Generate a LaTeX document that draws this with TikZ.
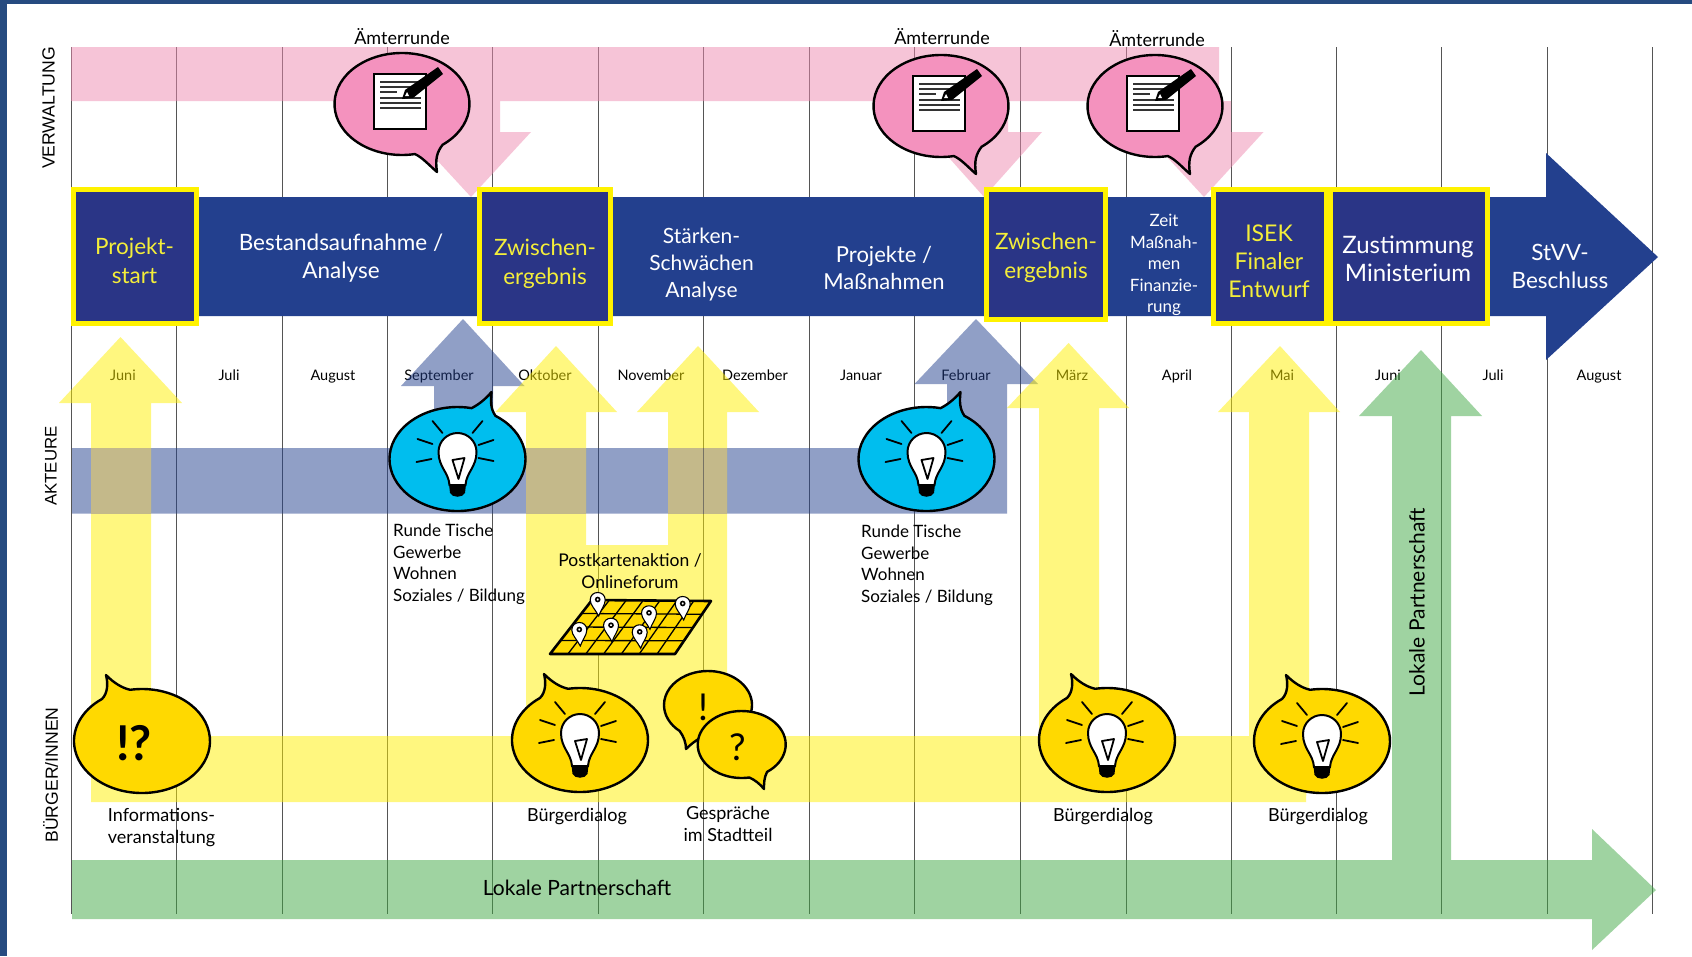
\documentclass[tikz,border=0pt]{standalone}
\usepackage{fontspec}
\setmainfont{Lato}
\newfontfamily\armfont{Liberation Sans}
\definecolor{frameblue}{HTML}{264B80}
\definecolor{barblue}{HTML}{23408E}
\definecolor{boxblue}{HTML}{2A3586}
\definecolor{boxyellow}{HTML}{FFF200}
\definecolor{tyellow}{HTML}{F4EE3A}
\definecolor{bubyellow}{HTML}{FFD900}
\definecolor{bubcyan}{HTML}{00BEEE}
\definecolor{bubpink}{HTML}{F492BE}
\definecolor{transyellow}{HTML}{FFF000}
\definecolor{transpink}{HTML}{EF8BB1}
\definecolor{transgreen}{HTML}{41A945}
\definecolor{gridgray}{HTML}{555555}
\definecolor{tan}{HTML}{C4B98A}
\newcommand{\fsz}[2]{\fontsize{#1}{#2}\selectfont}
\tikzset{
  gridline/.style={draw=gridgray,line width=0.9pt},
  ypanel/.style={fill=transyellow,fill opacity=.5},
  bpanel/.style={fill=barblue,fill opacity=.5},
  ppanel/.style={fill=transpink,fill opacity=.5},
  gpanel/.style={fill=transgreen,fill opacity=.5},
  milestone/.style={draw=boxyellow,line width=5pt,fill=boxblue,inner sep=0pt},
  bartext/.style={white,font=\fsz{22.5}{28},align=center,inner sep=0pt},
  milestext/.style={tyellow,font=\fsz{22.5}{29},align=center,inner sep=0pt},
  monthtext/.style={black,font=\fsz{14.5}{17},inner sep=0pt,anchor=base},
  lab/.style={black,font=\fsz{18}{22},align=center,inner sep=0pt},
  lableft/.style={black,font=\fsz{17}{21.6},align=left,inner sep=0pt},
  side/.style={black,font=\armfont\fsz{17.6}{22},rotate=90,inner sep=0pt},
  outl/.style={draw=black,line width=2.4pt,line join=round},
  ic/.style={draw=black,line width=1.8pt,line cap=round},
}
\newcommand{\pinkbubble}[2]{%
  \begin{scope}[shift={(#1,#2)}]
    \path[outl,fill=bubpink] (53:67.5 and 51)
      arc[start angle=53,end angle=-281,x radius=67.5,y radius=51]
      .. controls (20,53) and (28,62) .. (35,68)
      .. controls (33,55) and (35,48) .. (53:67.5 and 51) -- cycle;
    \draw[black,line width=2.2pt,fill=white] (-28,-30) rectangle (24,25);
    \foreach \yy in {-22,-17} \draw[black!80,line width=1.1pt] (-22,\yy) -- (19,\yy);
    \draw[black!80,line width=1.1pt] (-22,-12) -- (-5,-12);
    \foreach \yy in {-6,-1,4} \draw[black!80,line width=1.1pt] (-22,\yy) -- (19,\yy);
    \fill[black] (0,-5) -- (3,-14) -- (36,-37) -- (41,-30) -- (11,-6) -- cycle;
    \fill[white] (3,-8) -- (5,-12) -- (7,-8) -- cycle;
  \end{scope}}
\newcommand{\lightbulb}{%
  \foreach \ax/\ay/\bx/\by in {-25/-38/-15/-26,25/-38/15/-26,-40/-20/-25/-15,36/-19/21/-14,-41/3/-26/0,36/2/21/-1}
    \draw[ic] (\ax,\ay) -- (\bx,\by);
  \path[draw=black,line width=2pt,fill=white] (-8,26)
    .. controls (-9,13) and (-19,8) .. (-19,-7)
    .. controls (-19,-18) and (-10,-26) .. (0,-26)
    .. controls (10,-26) and (19,-18) .. (19,-7)
    .. controls (19,8) and (9,13) .. (8,26) -- cycle;
  \fill[black] (-8.5,25) -- (8.5,25) -- (7.5,34) .. controls (5,39) and (-5,39) .. (-7.5,34) -- cycle;
  \draw[black,line width=1.8pt,line join=round] (-5,1) -- (7,-1) -- (1,20) -- cycle;
}
\newcommand{\cyanbubble}[2]{%
  \begin{scope}[shift={(#1,#2)}]
    \path[outl,fill=bubcyan] (-56:68 and 52)
      arc[start angle=-56,end angle=282,x radius=68,y radius=52]
      .. controls (22,-55) and (28,-60) .. (34,-67)
      .. controls (33,-58) and (33,-50) .. (-56:68 and 52) -- cycle;
    \lightbulb
  \end{scope}}
\newcommand{\yellowblob}{%
    \path[outl,fill=bubyellow] (260:68 and 52)
      arc[start angle=260,end angle=594,x radius=68,y radius=52]
      .. controls (-34,-48) and (-34,-58) .. (-36,-66)
      .. controls (-28,-58) and (-20,-53) .. (260:68 and 52) -- cycle;
}
\newcommand{\yellowbubble}[2]{%
  \begin{scope}[shift={(#1,#2)}]
    \yellowblob
    \lightbulb
  \end{scope}}
\newcommand{\mappin}[2]{%
  \path[draw=black,line width=1.1pt,fill=white,shift={(#1,#2)}] (-7.5,0)
    .. controls (-7.5,-10) and (7.5,-10) .. (7.5,0)
    .. controls (7.5,5) and (3,10) .. (1,16)
    .. controls (-2,10) and (-7.5,5) .. (-7.5,0) -- cycle;
  \path[draw=black,line width=1.6pt,fill=white,shift={(#1,#2)}] (0,-.5) circle[radius=2];
}
\begin{document}
\begin{tikzpicture}[x=1pt,y=-1pt]
\useasboundingbox (0,0) rectangle (1692,956);
\fill[white] (0,0) rectangle (1692,956);
\fill[frameblue] (0,0) rectangle (1692,4);
\fill[frameblue] (0,0) rectangle (6.5,956);
% grid
\foreach \gx in {71,176,282,387,492,598,703,809,914,1020,1126,1231,1336,1441,1547,1652}
  \draw[gridline] (\gx,47) -- (\gx,914);
% months
\foreach \mx/\mt/\mn in {123/Juni/m1,229/Juli/m2,333/August/m3,439/September/m4,545/Oktober/m5,651/November/m6,755/Dezember/m7,861/Januar/m8,966/Februar/m9,1072/März/m10,1177/April/m11,1282/Mai/m12,1388/Juni/m13,1493/Juli/m14,1599/August/m15}
  \node[monthtext] (\mn) at (\mx,380) {\mt};
% pink flow
\path[ppanel] (71,47) -- (1219,47) -- (1219,101) -- (1231,101) -- (1231,132) -- (1263.5,132) -- (1204,197)
  -- (1144,132) -- (1175,132) -- (1175,101) -- (1008,101) -- (1008,132) -- (1042,132) -- (984,197)
  -- (926,132) -- (950,132) -- (950,101) -- (500,101) -- (500,132) -- (531,132) -- (471,197)
  -- (411,132) -- (442,132) -- (442,101) -- (71,101) -- cycle;
% blue-grey flow
\path[bpanel] (72,448) -- (434,448) -- (434,386) -- (401,386) -- (463,319) -- (524.5,386) -- (493,386)
  -- (493,448) -- (947,448) -- (947,384) -- (914.5,384) -- (976,319) -- (1038,384) -- (1007,384)
  -- (1007,513.5) -- (72,513.5) -- cycle;
% yellow flow
\path[ypanel] (91,802) -- (91,403) -- (59,403) -- (120.5,337) -- (182,403) -- (151,403) -- (151,736)
  -- (526,736) -- (526,412) -- (495.5,412) -- (556,346) -- (617,412) -- (586,412) -- (586,545)
  -- (668,545) -- (668,412) -- (637,412) -- (698,346) -- (759,412) -- (727,412) -- (727,736)
  -- (1039,736) -- (1039,408) -- (1007,408) -- (1068.6,343) -- (1129,408) -- (1099,408) -- (1099,736)
  -- (1249,736) -- (1249,412) -- (1218,412) -- (1280,346) -- (1340,412) -- (1309,412) -- (1309,720)
  -- (1306,802) -- cycle;
% overlap of yellow shafts and blue band
\fill[tan] (91,448) rectangle (151,513.5);
\fill[tan] (526,448) rectangle (586,513.5);
\fill[tan] (668,448) rectangle (727,513.5);
\draw[gridline,draw opacity=.7] (703,448) -- (703,513.5);
% green flow
\path[gpanel] (72,860) -- (1392,860) -- (1392,416) -- (1359,416) -- (1421,350) -- (1482,416) -- (1451,416)
  -- (1451,860) -- (1592,860) -- (1592,829) -- (1656,890) -- (1592,950) -- (1592,919) -- (72,919) -- cycle;
% main blue arrow
\fill[barblue] (71,197) -- (1546,197) -- (1546,153) -- (1658,257) -- (1546,360) -- (1546,316) -- (71,316) -- cycle;
% milestones
\node[milestone,minimum width=123pt,minimum height=134pt] (ms1) at (134.5,256.5) {};
\node[milestone,minimum width=131pt,minimum height=134pt] (ms2) at (545,256.5) {};
\node[milestone,minimum width=119pt,minimum height=130pt] (ms3) at (1046,254.5) {};
\node[milestone,minimum width=113pt,minimum height=134pt] (ms4) at (1270,256.5) {};
\node[milestone,minimum width=157pt,minimum height=134pt] (ms5) at (1409,256.5) {};
% bar text
\node[milestext] (t1) at (134.5,261) {Projekt-\\start};
\node[bartext] (t2) at (341,258.5) {Bestandsaufnahme /\\Analyse};
\node[milestext] (t3) at (545,264) {Zwischen-\\ergebnis};
\node[bartext,font=\fsz{21}{27}] (t4) at (701.5,265) {Stärken-\\Schwächen\\Analyse};
\node[bartext,font=\fsz{22}{27.5}] (t5) at (884,268) {Projekte /\\Maßnahmen};
\node[milestext] (t6) at (1046,258) {Zwischen-\\ergebnis};
\node[bartext,font=\fsz{17}{21.5}] (t7) at (1164,265) {Zeit\\Maßnah-\\men\\Finanzie-\\rung};
\node[milestext,font=\fsz{23}{28}] (t8) at (1269,261) {ISEK\\Finaler\\Entwurf};
\node[bartext,font=\fsz{24}{28}] (t9) at (1408,259) {Zustimmung\\Ministerium};
\node[bartext] (t10) at (1560,266) {StVV-\\Beschluss};
% bubbles
\pinkbubble{402}{104}
\pinkbubble{941}{106}
\pinkbubble{1155}{106}
\cyanbubble{457.5}{459}
\cyanbubble{926.5}{459}
\begin{scope}[shift={(142,741)}]\yellowblob\end{scope}
\yellowbubble{580}{740}
\yellowbubble{1107}{740}
\yellowbubble{1322}{741}
\node[font=\fsz{48}{50}\bfseries,black,inner sep=0pt] (ii) at (134,743) {!?};
% two talk bubbles
\path[outl,fill=bubyellow] (708,705) ++(60:44 and 34)
  arc[start angle=60,end angle=-230,x radius=44,y radius=34]
  .. controls (684,737) and (686,743) .. (686,749)
  .. controls (690,745) and (695,741) .. (700,738) -- cycle;
\path[outl,fill=bubyellow] (741.7,744.5) ++(55:44 and 33.5)
  arc[start angle=55,end angle=-280,x radius=44,y radius=33.5]
  .. controls (755,780) and (760,784) .. (764,789)
  .. controls (764,783) and (764,778) .. (767,772) -- cycle;
\node[font=\fsz{37}{39},black,inner sep=0pt] (ex) at (703,707) {!};
\node[font=\fsz{37}{39},black,inner sep=0pt] (qu) at (738,747.5) {?};
% map
\path[draw=black,line width=2.6pt,line join=round,fill=bubyellow] (592,600) -- (711,601) -- (675,654) -- (550,654) -- cycle;
\foreach \fr in {0.25,0.5,0.75}
  \draw[black,line width=1.3pt] ({592-42*\fr},{600+54*\fr}) -- ({711-36*\fr},{601+53*\fr});
\foreach \fr in {0.143,0.286,0.429,0.571,0.714,0.857}
  \draw[black,line width=1.3pt] ({592+119*\fr},{600.5}) -- ({550+125*\fr},654);
\mappin{597.7}{600}
\mappin{682.7}{604}
\mappin{649}{613.3}
\mappin{579.3}{630}
\mappin{611}{625.7}
\mappin{639.7}{632.3}
% labels
\node[side] (s1) at (48.5,108) {VERWALTUNG};
\node[side,font=\armfont\fsz{16.8}{22}] (s2) at (51,466) {AKTEURE};
\node[side] (s3) at (50.5,775) {BÜRGER/INNEN};
\node[lab] (a1) at (402,37) {Ämterrunde};
\node[lab] (a2) at (942,37) {Ämterrunde};
\node[lab] (a3) at (1157,39) {Ämterrunde};
\node[lableft,anchor=north west] (r1) at (393,524) {Runde Tische\\Gewerbe\\Wohnen\\Soziales / Bildung};
\node[lableft,anchor=north west] (r2) at (861,525) {Runde Tische\\Gewerbe\\Wohnen\\Soziales / Bildung};
\node[lab,font=\fsz{17.5}{22}] (pk) at (630,571) {Postkartenaktion /\\Onlineforum};
\node[lab] (b1) at (577,817) {Bürgerdialog};
\node[lab] (ge) at (728,824) {Gespräche\\im Stadtteil};
\node[lab] (in) at (161.5,828) {Informations-\\veranstaltung};
\node[lab] (b2) at (1103,817) {Bürgerdialog};
\node[lab] (b3) at (1318,817) {Bürgerdialog};
\node[black,font=\fsz{21}{25},rotate=90,inner sep=0pt] (lp1) at (1417,602) {Lokale Partnerschaft};
\node[black,font=\fsz{21}{25},inner sep=0pt] (lp2) at (577,888) {Lokale Partnerschaft};
\end{tikzpicture}
\end{document}
